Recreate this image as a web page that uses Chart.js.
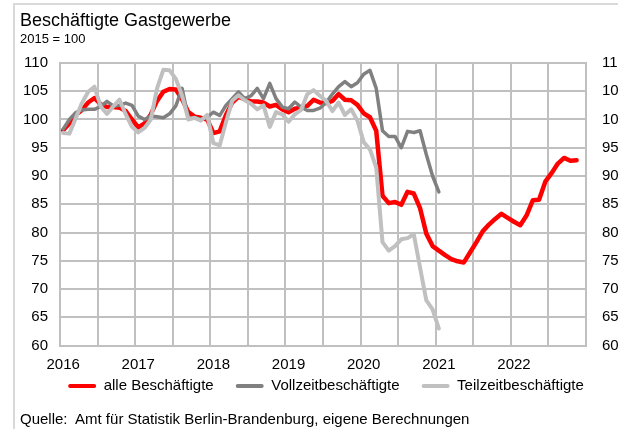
<!DOCTYPE html>
<html lang="de">
<head>
<meta charset="utf-8">
<script src="https://cdn.jsdelivr.net/npm/chart.js@4/dist/chart.umd.min.js"></script>
<style>
    html, body {margin: 0; padding: 0; background: #fff; overflow: hidden;}
    #wrap {position: relative; width: 618px; height: 429px; overflow: hidden;}
    #rahmen {position: absolute; left: 13px; top: 3px; width: 700px; height: 500px;
        border-left: 2px solid #d9d9d9; border-top: 2px solid #d9d9d9;}
    #grafik {position: absolute; left: 0; top: 0;}
    #quelle {position: absolute; left: 20px; top: 410px; font: 15px "Liberation Sans", Arial, sans-serif;
        color: #000; white-space: nowrap;}
</style>
</head>
<body>
<div id="wrap">
    <div id="rahmen"></div>
    <canvas id="grafik" width="632" height="433"></canvas>
    <div id="quelle">Quelle:&nbsp; Amt für Statistik Berlin-Brandenburg, eigene Berechnungen</div>
</div>
<script>
const jahre = ["2016", "2017", "2018", "2019", "2020", "2021", "2022"];
const yTicks = [60, 65, 70, 75, 80, 85, 90, 95, 100, 105, 110];
const serien = ["alle Beschäftigte", "Vollzeitbeschäftigte", "Teilzeitbeschäftigte"];

// Monatswerte ab Januar 2016
const alleBeschaeftigte = [
    98.1, 99.3, 100.8, 101.7, 103.0, 103.8, 102.7, 102.2, 102.2, 102.1, 101.5, 100.0,
    98.6, 99.3, 100.9, 103.3, 104.9, 105.4, 105.3, 103.6, 101.3, 100.5, 100.3, 100.0,
    97.6, 97.9, 100.8, 103.0, 104.0, 103.6, 103.2, 103.2, 103.0, 102.3, 102.6, 101.8,
    101.3, 101.9, 102.1, 102.4, 103.5, 103.0, 102.9, 103.3, 104.5, 103.5, 103.4, 102.6,
    101.1, 100.4, 98.0, 86.5, 85.2, 85.4, 84.9, 87.2, 86.9, 84.3, 79.8, 77.6,
    76.8, 76.0, 75.3, 74.9, 74.7, 76.5, 78.3, 80.2, 81.4, 82.4, 83.3, 82.6,
    81.9, 81.3, 83.0, 85.7, 85.8, 89.0, 90.5, 92.2, 93.2, 92.7, 92.8
];
const vollzeit = [
    98.3, 100.0, 101.2, 101.7, 101.8, 101.8, 102.3, 103.2, 102.4, 102.5, 102.9, 102.5,
    100.6, 100.0, 100.6, 100.5, 100.3, 101.0, 102.4, 105.5, 100.2, 100.3, 100.0, 100.4,
    101.3, 100.7, 102.5, 103.7, 104.9, 103.7, 104.2, 105.5, 103.7, 106.4, 103.7, 102.2,
    101.9, 103.1, 102.2, 101.6, 101.6, 102.0, 103.0, 104.5, 105.8, 106.7, 105.8, 106.5,
    108.0, 108.7, 105.5, 98.0, 97.0, 97.0, 95.0, 97.9, 97.7, 98.0, 93.8, 90.0,
    87.2
];
const teilzeit = [
    97.6, 97.5, 100.2, 102.9, 104.9, 105.8, 102.3, 101.0, 102.3, 103.5, 100.9, 98.7,
    97.7, 98.5, 100.0, 105.5, 108.8, 108.7, 107.2, 104.2, 100.0, 100.3, 99.8, 100.8,
    95.8, 95.4, 99.5, 103.3, 104.3, 103.4, 102.8, 101.8, 102.5, 98.7, 101.3, 100.9,
    99.6, 100.9, 101.7, 104.5, 105.2, 104.2, 103.3, 101.5, 103.0, 100.8, 101.8, 99.8,
    96.0, 94.7, 91.5, 78.3, 76.8, 77.6, 78.8, 79.0, 79.7, 73.8, 68.0, 66.4,
    63.0
];

const farben = ["#ff0000", "#808080", "#c0c0c0"];
const gitter = "#c0c0c0";
const schrift = "'Liberation Sans', Arial, sans-serif";

// Kategorien: ein Eintrag je Monat 2016-2022
const monate = [];
jahre.forEach(j => {
    for (let m = 1; m <= 12; m++) {monate.push(j + "-" + String(m).padStart(2, "0"));}
});

Chart.defaults.font.family = schrift;
Chart.defaults.color = "#000";

function linie(label, daten, farbe, breite, order) {
    return {
        label: label,
        data: daten,
        borderColor: farbe,
        backgroundColor: farbe,
        borderWidth: breite,
        borderJoinStyle: "round",
        borderCapStyle: "round",
        pointRadius: 0,
        tension: 0,
        order: order
    };
}

// Legende etwas näher an die Achse rücken
const legendeHoch = {
    id: "legendeHoch",
    afterLayout(chart) {
        if (!chart.legend) {return;}
        chart.legend.top -= 28;
        chart.legend.bottom -= 28;
    }
};

new Chart(document.getElementById("grafik"), {
    type: "line",
    data: {
        labels: monate,
        datasets: [
            linie(serien[0], alleBeschaeftigte, farben[0], 4.5, 2),
            linie(serien[1], vollzeit, farben[1], 3.5, 1),
            linie(serien[2], teilzeit, farben[2], 4, 0)
        ]
    },
    plugins: [legendeHoch],
    options: {
        responsive: false,
        animation: false,
        layout: {padding: {left: 20, right: 0, top: 0, bottom: 1.5}},
        scales: {
            x: {
                type: "category",
                offset: true,
                grid: {
                    offset: true,
                    drawTicks: false,
                    lineWidth: 2,
                    color: ctx => (ctx.index % 6 === 0 ? gitter : "rgba(0,0,0,0)")
                },
                border: {color: gitter, width: 2},
                ticks: {
                    autoSkip: false,
                    maxRotation: 0,
                    padding: 10.5,
                    font: {size: 15},
                    callback: (v, i) => (i % 12 === 0 ? monate[i].slice(0, 4) : "")
                }
            },
            y: {
                min: yTicks[0],
                max: yTicks[yTicks.length - 1],
                grid: {color: gitter, lineWidth: 2, drawTicks: false},
                border: {color: gitter, width: 2},
                ticks: {stepSize: 5, padding: 12, font: {size: 15}},
                afterFit: s => {s.width = 40;}
            },
            y1: {
                position: "right",
                min: yTicks[0],
                max: yTicks[yTicks.length - 1],
                grid: {display: false, drawTicks: false},
                border: {color: gitter, width: 2},
                ticks: {stepSize: 5, padding: 16, font: {size: 15}},
                afterFit: s => {s.width = 46;}
            }
        },
        plugins: {
            title: {
                display: true,
                text: "Beschäftigte Gastgewerbe",
                align: "start",
                color: "#000",
                font: {size: 18, weight: "normal"},
                padding: {top: 10.5, bottom: 0}
            },
            subtitle: {
                display: true,
                text: "2015 = 100",
                align: "start",
                color: "#000",
                font: {size: 13, weight: "normal"},
                padding: {top: 0, bottom: 15.3}
            },
            legend: {
                position: "bottom",
                labels: {
                    boxWidth: 28,
                    boxHeight: 4,
                    padding: 22,
                    useBorderRadius: true,
                    borderRadius: 2,
                    color: "#000",
                    font: {size: 15},
                    generateLabels: chart => Chart.defaults.plugins.legend.labels.generateLabels(chart)
                        .map(it => Object.assign(it, {lineWidth: 0, fillStyle: it.strokeStyle}))
                        .sort((a, b) => a.datasetIndex - b.datasetIndex)
                }
            },
            tooltip: {enabled: false}
        }
    }
});
</script>
</body>
</html>
